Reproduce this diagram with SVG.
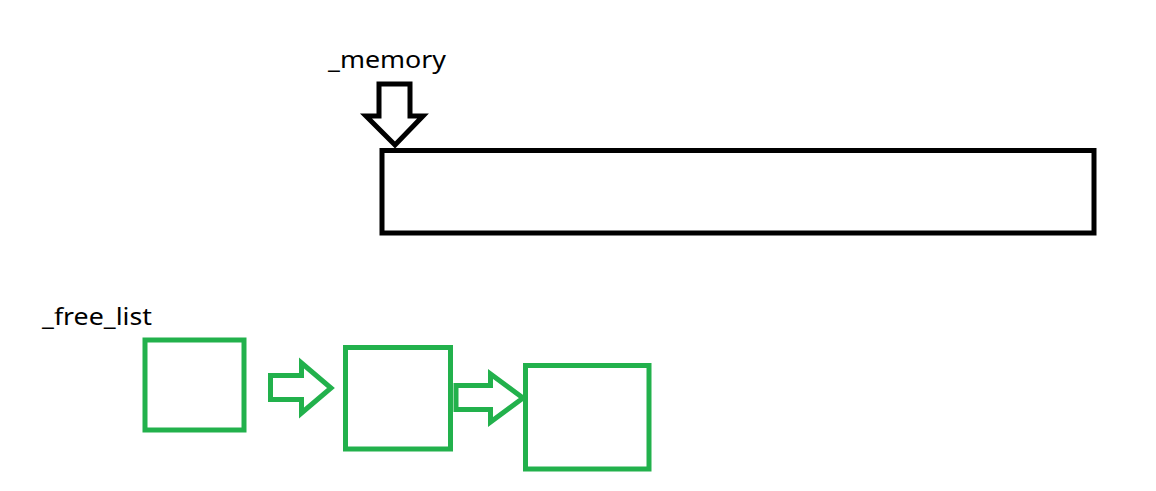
<svg xmlns="http://www.w3.org/2000/svg" width="1156" height="491" viewBox="0 0 1156 491">
<style>
.lbl{font-family:"Noto Sans","Liberation Sans",sans-serif;font-size:24px;fill:#000}
.blk{fill:none;stroke:#000;stroke-width:5;stroke-linejoin:miter}
.grn{fill:none;stroke:#22b14c;stroke-width:5;stroke-linejoin:miter}
</style>
<rect width="1156" height="491" fill="#fff"/>
<g id="label-memory"><text class="lbl" x="328" y="68" textLength="118" lengthAdjust="spacingAndGlyphs">_memory</text></g>
<g id="label-free-list"><text class="lbl" x="42" y="325" textLength="110" lengthAdjust="spacingAndGlyphs">_free_list</text></g>
<g id="memory-block"><rect class="blk" x="382" y="150.5" width="712" height="82.5"/></g>
<g id="free-block-1"><rect class="grn" x="145" y="340" width="99" height="90"/></g>
<g id="free-block-2"><rect class="grn" x="345.5" y="347.5" width="105" height="101.5"/></g>
<g id="free-block-3"><rect class="grn" x="525.5" y="365.5" width="123.5" height="103.5"/></g>
<g id="connectors">
<polygon class="blk" points="379,84 410,84 410,116 423,116 395,145 366,116 379,116"/>
<polygon class="grn" points="270.5,375.5 301.5,375.5 301.5,363 331,388 301.5,413 301.5,399.5 270.5,399.5"/>
<polygon class="grn" points="456,385.5 490.5,385.5 490.5,374 523,398 490.5,422 490.5,409.5 456,409.5"/>
</g>
</svg>
